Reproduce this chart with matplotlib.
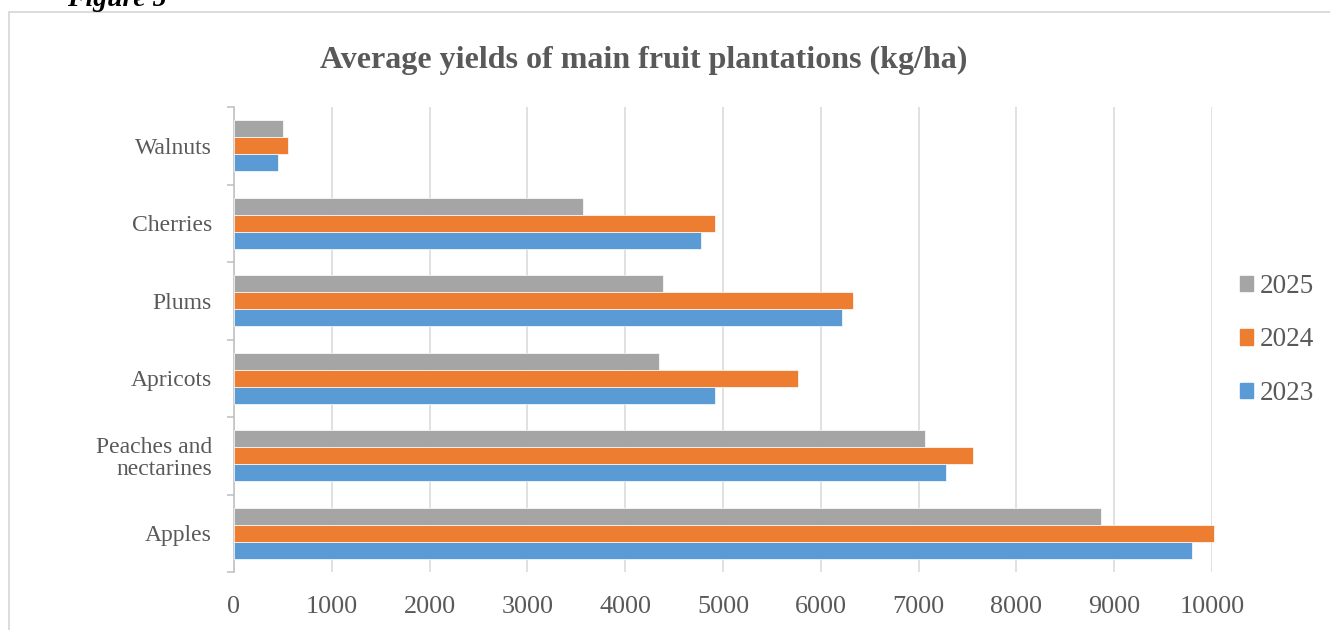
import numpy as np
import matplotlib
matplotlib.use('Agg')
import matplotlib.pyplot as plt
from matplotlib.patches import Patch, Rectangle

plt.rcParams['font.family'] = ['Liberation Serif', 'DejaVu Serif']

# data (kg/ha)
fruits = ['Apples', 'Peaches and\nnectarines', 'Apricots', 'Plums', 'Cherries', 'Walnuts']
y2023 = [9800, 7280, 4920, 6220, 4780, 450]
y2024 = [10020, 7560, 5770, 6330, 4920, 550]
y2025 = [8870, 7070, 4350, 4390, 3570, 500]
years = ['2023', '2024', '2025']
colors = ['#5B9BD5', '#ED7D31', '#A5A5A5']
xticks = [0, 1000, 2000, 3000, 4000, 5000, 6000, 7000, 8000, 9000, 10000]

txt = '#595959'
grid = '#D9D9D9'

fig = plt.figure(figsize=(13.3, 6.3), dpi=100)
ax = fig.add_axes([234/1330, 1-572/630, (1212-234)/1330, (572-107)/630])

# outer chart frame
fig.patches.append(Rectangle((9/1330, -0.5), 2, 1.5-12/630, transform=fig.transFigure,
                             fill=False, edgecolor=grid, lw=1.3))

y = np.arange(len(fruits))
h = 0.22
series = [y2023, y2024, y2025]
offs = [-h, 0, h]
for vals, c, o, lab in zip(series, colors, offs, years):
    ax.barh(y + o, vals, height=h, color=c, edgecolor='white', linewidth=0.5,
            label=lab, clip_on=False, zorder=3)

ax.set_xlim(0, 10000)
ax.set_ylim(-0.5, len(fruits) - 0.5)
ax.set_xticks(xticks)
ax.set_xticklabels([str(v) for v in xticks])
ax.xaxis.grid(True, color=grid, lw=1.1, zorder=0)
ax.set_axisbelow(True)

ax.set_yticks(y)
ax.set_yticklabels(fruits, linespacing=1.05)
ax.set_yticks(np.arange(len(fruits) + 1) - 0.5, minor=True)
ax.tick_params(axis='y', which='major', length=0, pad=16, labelsize=17, labelcolor=txt)
ax.tick_params(axis='y', which='minor', length=5, color='#BFBFBF', width=1.1)
ax.tick_params(axis='x', length=0, pad=17, labelsize=18.8, labelcolor=txt)

for s in ['top', 'right', 'bottom']:
    ax.spines[s].set_visible(False)
ax.spines['left'].set_color('#BFBFBF')
ax.spines['left'].set_linewidth(1.1)

handles = [Patch(color=c, label=l) for c, l in zip(colors, years)][::-1]
leg = ax.legend(handles=handles, loc='center left', bbox_to_anchor=(1226/1330, 1-340/630),
                bbox_transform=fig.transFigure, frameon=False, fontsize=19.5,
                handlelength=0.5, handleheight=0.5, handletextpad=0.25, labelspacing=1.05,
                borderpad=0)
for t in leg.get_texts():
    t.set_color(txt)

fig.text(644/1330, 1-60/630, 'Average yields of main fruit plantations (kg/ha)',
         ha='center', va='center', fontsize=23, fontweight='bold', color=txt)
fig.text(67/1330, 1-6/630, 'Figure 5', ha='left', va='baseline', fontsize=20,
         fontweight='bold', fontstyle='italic', color='black')

fig.savefig('out.png', dpi=100)
